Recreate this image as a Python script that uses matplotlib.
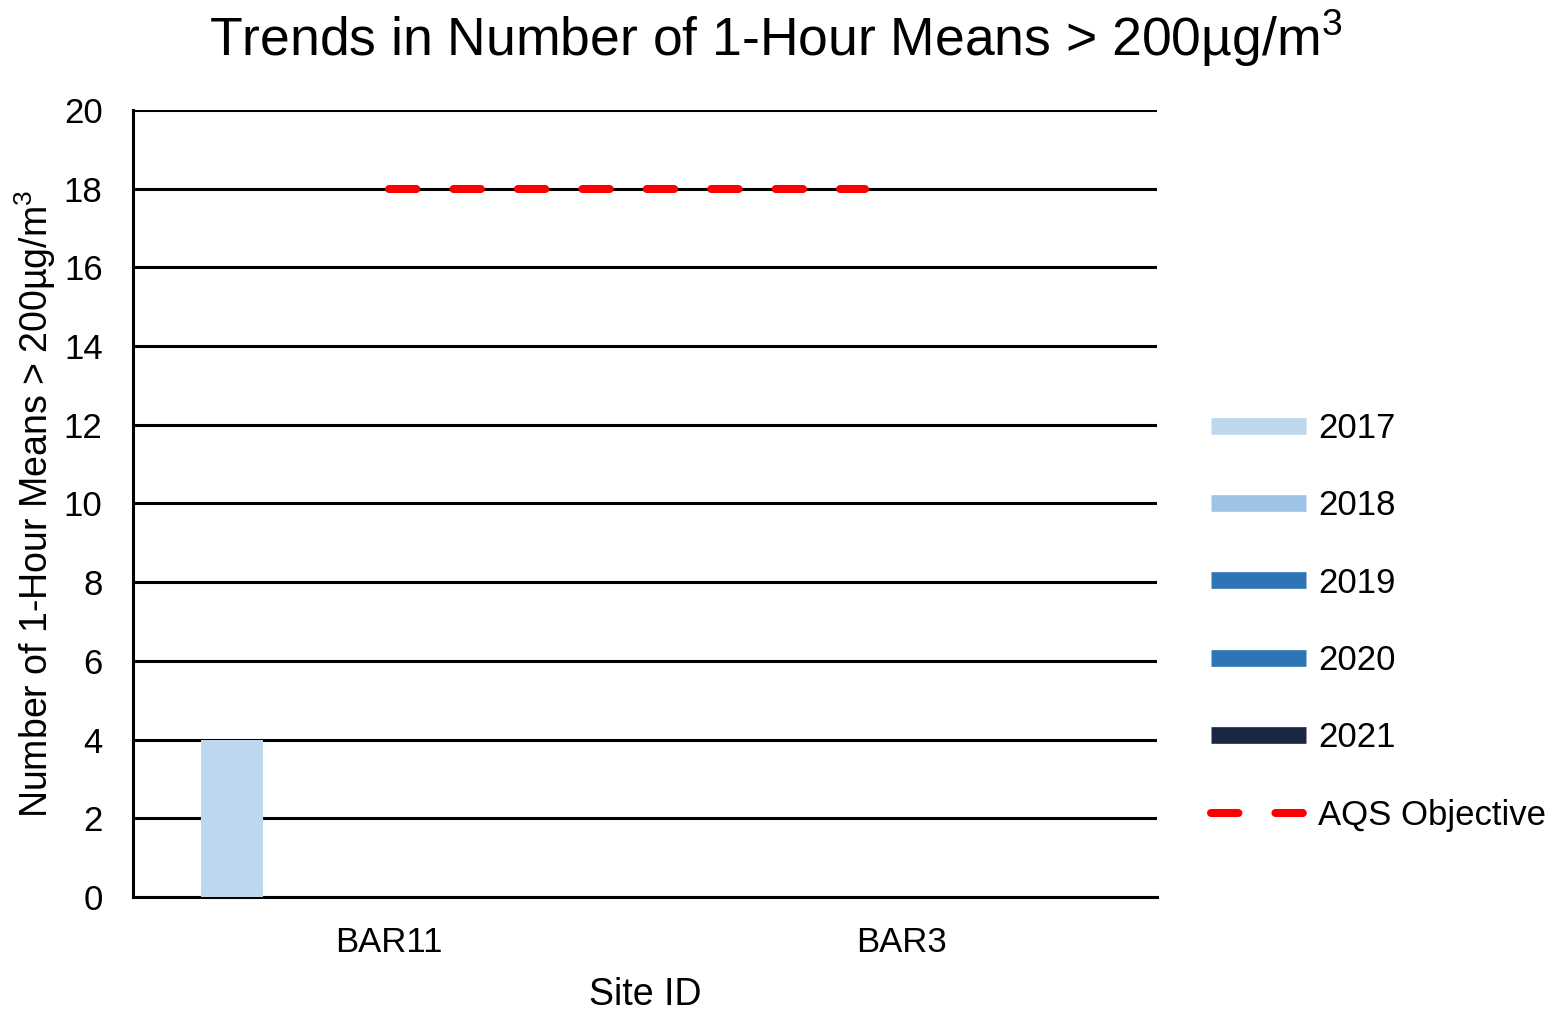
import numpy as np
import matplotlib.pyplot as plt

plt.rcParams['font.family'] = ['Liberation Sans', 'DejaVu Sans']
plt.rcParams['mathtext.fontset'] = 'custom'
plt.rcParams['mathtext.rm'] = 'Liberation Sans'
plt.rcParams['mathtext.default'] = 'regular'

sites = ['BAR11', 'BAR3']
years = ['2017', '2018', '2019', '2020', '2021']
counts_2017 = [4, 0]
counts_2018 = [0, 0]
counts_2019 = [0, 0]
counts_2020 = [0, 0]
counts_2021 = [0, 0]
year_colours = ['#BDD7EE', '#9DC3E6', '#2E75B6', '#2E75B6', '#1A2744']

objective = 18
objective_x = [0, 0.93]

fig = plt.figure(figsize=(15.51, 10.11), dpi=100)
ax = fig.add_axes([0.0858, 0.1128, 0.6602, 0.7784])

x = np.arange(len(sites))
step = 0.153
width = 0.121
series = [counts_2017, counts_2018, counts_2019, counts_2020, counts_2021]
for i, (vals, col, yr) in enumerate(zip(series, year_colours, years)):
    ax.bar(x + (i - 2) * step, vals, width, color=col, label=yr, zorder=3)

dash = (0, (3.4, 4.6))
ax.plot(objective_x, [objective] * len(objective_x), color='#FF0000',
        lw=5.8, ls=dash, dash_capstyle='round', label='AQS Objective', zorder=4)

ax.set_xlim(-0.5, 1.5)
ax.set_ylim(0, 20)
ax.set_yticks(np.arange(0, 21, 2))
ax.set_xticks(x)
ax.set_xticklabels(sites)
ax.tick_params(axis='both', labelsize=25, length=0)
ax.tick_params(axis='y', pad=22)
ax.tick_params(axis='x', pad=21)
ax.yaxis.grid(True, color='black', lw=2.2, zorder=1)
ax.set_axisbelow(True)
for s in ['top', 'right']:
    ax.spines[s].set_visible(False)
for s in ['left', 'bottom']:
    ax.spines[s].set_linewidth(2.2)
    ax.spines[s].set_color('black')

unit = '200µg/m$^3$'
ax.set_xlabel('Site ID', fontsize=27, labelpad=13)
ax.set_ylabel('Number of 1-Hour Means > ' + unit, fontsize=27, labelpad=4)

fig.suptitle('Trends in Number of 1-Hour Means > ' + unit, fontsize=38.5, y=0.992)

handles = [plt.Line2D([], [], color=c, lw=12, solid_capstyle='butt') for c in year_colours]
handles.append(plt.Line2D([], [], color='#FF0000', lw=5.8, ls=dash,
                          dash_capstyle='round'))
labels = years + ['AQS Objective']
fig.legend(handles, labels, loc='center left', bbox_to_anchor=(0.7808, 0.385),
           frameon=False, fontsize=25, handlelength=2.74, handletextpad=0.35,
           labelspacing=1.28, borderaxespad=0, borderpad=0)

fig.savefig('out.png', dpi=100)
